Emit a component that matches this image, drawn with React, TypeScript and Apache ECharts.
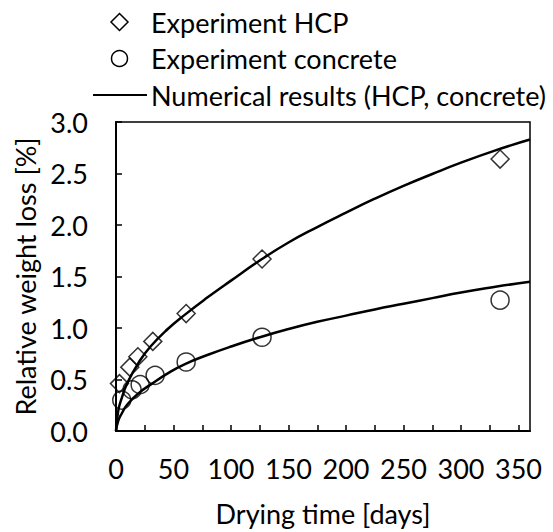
import React, { useEffect, useRef } from "react";
import * as echarts from "echarts";

const hcpDays = [3, 12, 19, 32, 61, 127, 334];
const hcpLoss = [0.46, 0.62, 0.72, 0.87, 1.14, 1.67, 2.64];
const concreteDays = [5, 14, 21, 34, 61, 127, 334];
const concreteLoss = [0.3, 0.4, 0.45, 0.54, 0.67, 0.91, 1.27];

const curveDays = [0, 2, 5, 10, 20, 30, 45, 60, 80, 100, 125, 150, 175, 200, 225, 250, 275, 300, 330, 360];
const curveHcp = [0, 0.2, 0.32, 0.47, 0.67, 0.82, 0.99, 1.13, 1.3, 1.46, 1.655, 1.83, 1.98, 2.12, 2.255, 2.38, 2.495, 2.605, 2.725, 2.83];
const curveConcrete = [0, 0.1, 0.17, 0.26, 0.37, 0.45, 0.56, 0.65, 0.74, 0.82, 0.91, 0.99, 1.06, 1.12, 1.18, 1.235, 1.29, 1.345, 1.4, 1.45];

const legendLabels = ["Experiment HCP", "Experiment concrete", "Numerical results (HCP, concrete)"];
const xTitle = "Drying time [days]";
const yTitle = "Relative weight loss [%]";

const FONT = "Lato";
const FS = 27;

export default function App() {
  const ref = useRef<HTMLDivElement>(null);
  useEffect(() => {
    if (!ref.current) return;
    const chart = echarts.init(ref.current, null, { renderer: "svg" });
    const pair = (xs: number[], ys: number[]) => xs.map((x, i) => [x, ys[i]]);
    const txt = (s: string, y: number) => ({
      type: "text",
      x: 151,
      y,
      style: { text: s, font: `${FS}px ${FONT}`, fill: "#000", align: "left", verticalAlign: "middle" },
    });
    chart.setOption({
      animation: false,
      grid: {
        left: 116,
        right: 23,
        top: 122,
        bottom: 101,
        show: true,
        borderColor: "#000",
        borderWidth: 1.5,
      },
      xAxis: {
        type: "value",
        min: 0,
        max: 360,
        interval: 25,
        name: xTitle,
        nameLocation: "middle",
        nameGap: 69,
        nameTextStyle: { fontFamily: FONT, fontSize: FS, color: "#000" },
        axisLine: { lineStyle: { color: "#000", width: 2 } },
        axisTick: { inside: true, length: 6, lineStyle: { color: "#000", width: 1.5 } },
        axisLabel: {
          fontFamily: FONT,
          fontSize: FS,
          color: "#000",
          margin: 24,
          showMaxLabel: false,
          formatter: (v: number) => (v % 50 === 0 ? String(v) : ""),
        },
        splitLine: { show: false },
      },
      yAxis: {
        type: "value",
        min: 0,
        max: 3,
        interval: 0.5,
        name: yTitle,
        nameLocation: "middle",
        nameGap: 76,
        nameTextStyle: { fontFamily: FONT, fontSize: FS, color: "#000" },
        axisLine: { show: true, lineStyle: { color: "#000", width: 2 } },
        axisTick: { show: true, inside: true, length: 6, lineStyle: { color: "#000", width: 1.5 } },
        axisLabel: {
          fontFamily: FONT,
          fontSize: FS,
          color: "#000",
          margin: 28,
          formatter: (v: number) => v.toFixed(1),
        },
        splitLine: { show: false },
      },
      graphic: [
        {
          type: "polygon",
          shape: { points: [[119.5, 13.5], [128, 22], [119.5, 30.5], [111, 22]] },
          style: { fill: "none", stroke: "#000", lineWidth: 1.5 },
        },
        {
          type: "circle",
          shape: { cx: 119.5, cy: 58.5, r: 8 },
          style: { fill: "none", stroke: "#000", lineWidth: 1.5 },
        },
        {
          type: "line",
          shape: { x1: 93, y1: 95, x2: 147, y2: 95 },
          style: { stroke: "#000", lineWidth: 2.2 },
        },
        txt(legendLabels[0], 22),
        txt(legendLabels[1], 58.5),
        txt(legendLabels[2], 95),
      ],
      series: [
        {
          name: "Numerical HCP",
          type: "line",
          smooth: true,
          symbol: "none",
          data: pair(curveDays, curveHcp),
          lineStyle: { color: "#000", width: 2.5 },
          z: 2,
        },
        {
          name: "Numerical concrete",
          type: "line",
          smooth: true,
          symbol: "none",
          data: pair(curveDays, curveConcrete),
          lineStyle: { color: "#000", width: 2.5 },
          z: 2,
        },
        {
          name: legendLabels[0],
          type: "scatter",
          symbol: "diamond",
          symbolSize: 18,
          data: pair(hcpDays, hcpLoss),
          itemStyle: { color: "rgba(0,0,0,0)", borderColor: "#000", borderWidth: 1.5 },
          z: 3,
        },
        {
          name: legendLabels[1],
          type: "scatter",
          symbol: "circle",
          symbolSize: 18,
          data: pair(concreteDays, concreteLoss),
          itemStyle: { color: "rgba(0,0,0,0)", borderColor: "#000", borderWidth: 1.5 },
          z: 3,
        },
      ],
    });
    return () => chart.dispose();
  }, []);
  return <div ref={ref} style={{ width: 553, height: 532, position: "absolute", left: 0, top: 0 }} />;
}
